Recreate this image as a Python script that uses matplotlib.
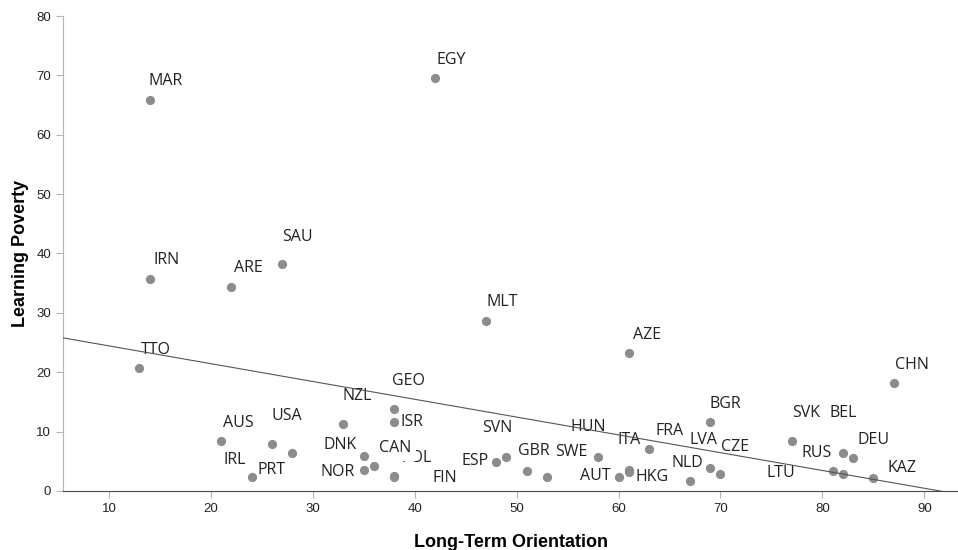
import numpy as np
import matplotlib
matplotlib.use("Agg")
import matplotlib.pyplot as plt

# country codes, long-term orientation, learning poverty
countries = ["MAR", "EGY", "IRN", "ARE", "SAU", "MLT", "AZE", "TTO", "CHN",
             "AUS", "IRL", "USA", "PRT", "NZL", "GEO", "ISR", "DNK", "NOR",
             "CAN", "POL", "FIN", "ESP", "SVN", "GBR", "SWE", "HUN", "AUT",
             "HKG", "ITA", "FRA", "NLD", "LVA", "BGR", "CZE", "SVK", "RUS",
             "LTU", "BEL", "DEU", "KAZ"]
lto = [14, 42, 14, 22, 27, 47, 61, 13, 87,
       21, 24, 26, 28, 33, 38, 38, 35, 35,
       36, 38, 38, 48, 49, 51, 53, 58, 60,
       61, 61, 63, 67, 69, 69, 70, 77, 81,
       82, 82, 83, 85]
poverty = [65.8, 69.6, 35.7, 34.3, 38.3, 28.6, 23.3, 20.7, 18.2,
           8.5, 2.3, 7.9, 6.4, 11.3, 13.8, 11.6, 5.9, 3.5,
           4.2, 2.6, 2.4, 4.8, 5.8, 3.4, 2.3, 5.8, 2.3,
           3.5, 3.2, 7.1, 1.6, 3.9, 11.7, 2.9, 8.5, 3.3,
           2.9, 6.4, 5.6, 2.2]

# label offsets in pixels (dx, dy up)
offsets = {
    "MAR": (16, 19), "EGY": (16, 18), "IRN": (17, 19), "ARE": (17, 19),
    "SAU": (15, 27), "MLT": (16, 19), "AZE": (18, 18), "TTO": (16, 18),
    "CHN": (18, 18), "AUS": (17, 18), "IRL": (-17, 17), "USA": (15, 28),
    "PRT": (-21, -17), "NZL": (14, 28), "GEO": (14, 28), "ISR": (18, 0),
    "DNK": (-24, 11), "NOR": (-26, -2), "CAN": (21, 18), "POL": (22, 18),
    "FIN": (50, -1), "ESP": (-21, 1), "SVN": (-9, 29), "GBR": (7, 20),
    "SWE": (24, 25), "HUN": (-10, 30), "AUT": (-23, 1), "HKG": (23, -7),
    "ITA": (0, 32), "FRA": (20, 18), "NLD": (-3, 18), "LVA": (-7, 28),
    "BGR": (15, 18), "CZE": (15, 27), "SVK": (14, 28), "RUS": (-16, 18),
    "LTU": (-62, 1), "BEL": (0, 40), "DEU": (21, 18), "KAZ": (29, 10),
}

fig = plt.figure(figsize=(9.58, 5.5), dpi=100)
ax = fig.add_axes([0.0658, 0.1073, 0.9342, 0.8636])

ax.scatter(lto, poverty, s=44, color="#8c8c8c", zorder=3, linewidths=0)

# linear fit line
b, a = np.polyfit(lto, poverty, 1)
xs = np.array([5.5, 93.3])
ax.plot(xs, a + b * xs, color="#555555", lw=0.8, zorder=4)

lab_font = {"family": "Open Sans", "size": 11.5, "color": "#222222"}
for c, x, y in zip(countries, lto, poverty):
    dx, dy = offsets[c]
    box = None
    z = 2
    if c == "CAN":
        # SPSS label box hides the start of the POL label
        box = dict(boxstyle="square,pad=0.3", fc="white", ec="none")
        z = 2.5
    ax.annotate(c, (x, y), xytext=(dx * 0.72, dy * 0.72), textcoords="offset points",
                ha="center", va="center", zorder=z, bbox=box, **lab_font)

ax.set_xlim(5.5, 93.3)
ax.set_ylim(0, 80)
ax.set_xticks(range(10, 100, 10))
ax.set_yticks(range(0, 90, 10))
for s in ["top", "right"]:
    ax.spines[s].set_visible(False)
ax.spines["left"].set_color("#b4b4b4")
ax.spines["bottom"].set_color("#4a4a4a")
ax.tick_params(colors="#b4b4b4", labelcolor="#222222", labelsize=9.5,
               length=5, width=0.8)
for t in ax.get_xticklabels() + ax.get_yticklabels():
    t.set_family("Liberation Sans")

ax.set_xlabel("Long-Term Orientation", fontsize=13, fontweight="bold",
              family="Liberation Sans", labelpad=14)
ax.set_ylabel("Learning Poverty", fontsize=13, fontweight="bold",
              family="Liberation Sans", labelpad=5)

fig.savefig("out.png", dpi=100)
